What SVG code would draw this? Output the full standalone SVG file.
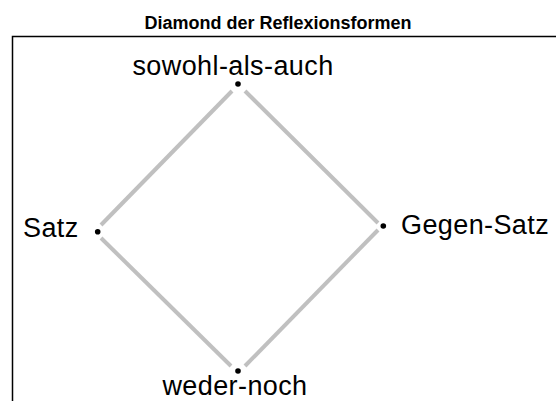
<svg xmlns="http://www.w3.org/2000/svg" width="556" height="401" viewBox="0 0 556 401">
<style>
.title{font-family:"Liberation Sans",Arial,sans-serif;font-weight:bold;font-size:18px;fill:#000}
.lbl{font-family:"Liberation Sans",Arial,sans-serif;font-size:27px;letter-spacing:0.4px;fill:#000}
.edge{stroke:#c0c0c0;stroke-width:4;fill:none}
.dot{fill:#000}
.frame{stroke:#000;stroke-width:1.5;fill:none}
</style>
<rect width="556" height="401" fill="#fff"/>
<text class="title" x="278" y="29" text-anchor="middle">Diamond der Reflexionsformen</text>
<path class="frame" d="M12.5,401 L12.5,36.5 L556,36.5"/>
<g id="connectors">
<line class="edge" x1="232" y1="91" x2="101" y2="225"/>
<line class="edge" x1="245" y1="91" x2="378" y2="223"/>
<line class="edge" x1="101" y1="238" x2="231" y2="366"/>
<line class="edge" x1="378" y1="230" x2="245" y2="366"/>
</g>
<g id="node-top">
<circle class="dot" cx="238" cy="84" r="2.8"/>
<text class="lbl" x="233" y="75" text-anchor="middle">sowohl-als-auch</text>
</g>
<g id="node-left">
<circle class="dot" cx="97.7" cy="231.7" r="2.8"/>
<text class="lbl" x="23" y="237">Satz</text>
</g>
<g id="node-right">
<circle class="dot" cx="383.3" cy="226" r="2.8"/>
<text class="lbl" x="401" y="234">Gegen-Satz</text>
</g>
<g id="node-bottom">
<circle class="dot" cx="238" cy="371" r="2.8"/>
<text class="lbl" x="235" y="395" text-anchor="middle">weder-noch</text>
</g>
</svg>
